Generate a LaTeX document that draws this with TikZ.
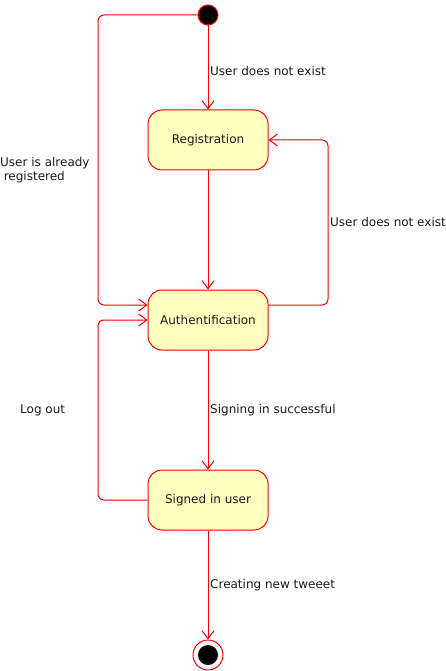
\documentclass[tikz,border=0pt]{standalone}
\usepackage{fontspec}
\setmainfont{DejaVu Sans}
\usetikzlibrary{arrows.meta}
\definecolor{stfill}{HTML}{FFFFC0}
\definecolor{stline}{HTML}{FF0000}
\definecolor{txt}{HTML}{1A1A1A}
\begin{document}
\begin{tikzpicture}[x=1pt,y=-1pt,
  state/.style={draw=stline,fill=stfill,rounded corners=14pt,minimum width=120pt,minimum height=60pt,inner sep=0pt,font=\fontsize{12}{14}\selectfont,text=txt,line width=1pt},
  conn/.style={draw=stline,line width=1pt,rounded corners=6pt,-{Straight Barb[length=8pt,width=12pt,line width=1pt]}},
  lbl/.style={font=\fontsize{12}{14.5}\selectfont,text=txt,inner sep=0pt}]
\useasboundingbox (0,0) rectangle (446,671);
\node[circle,fill=black,draw=stline,line width=1pt,minimum size=20pt,inner sep=0pt] (init) at (208,15) {};
\node[state] (reg) at (208,140) {Registration};
\node[state] (auth) at (208,320) {Authentification};
\node[state] (sig) at (208,500) {Signed in user};
\node[circle,draw=stline,fill=white,line width=1pt,minimum size=30pt,inner sep=0pt] (fin) at (208,655) {};
\node[circle,fill=black,minimum size=20pt,inner sep=0pt] (finin) at (fin) {};
\coordinate (a1) at (98,15);
\coordinate (a2) at (98,305);
\coordinate (b1) at (328,305);
\coordinate (b2) at (328,140);
\coordinate (c1) at (98,500);
\coordinate (c2) at (98,320);
\path[conn] (init) -- (reg);
\path[conn] (init.west) -- (a1) -- (a2) -- (auth.west |- a2);
\path[conn] (reg) -- (auth);
\path[conn] (auth.east |- b1) -- (b1) -- (b2) -- (reg.east);
\path[conn] (auth) -- (sig);
\path[conn] (sig.west) -- (c1) -- (c2) -- (auth.west);
\path[conn] (sig) -- (fin);
\node[lbl,anchor=west] (l1) at (210,71) {User does not exist};
\node[lbl,anchor=west,align=left] (l2) at (0,170) {User is already\\\hspace{0.3em}registered};
\node[lbl,anchor=west] (l3) at (330,222) {User does not exist};
\node[lbl,anchor=west] (l4) at (210,410) {Signing in successful};
\node[lbl,anchor=west] (l5) at (20,410) {Log out};
\node[lbl,anchor=west] (l6) at (210,585) {Creating new tweeet};
\end{tikzpicture}
\end{document}
